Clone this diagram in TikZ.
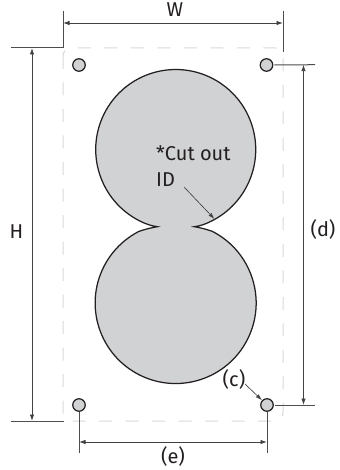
\documentclass[tikz,border=0pt]{standalone}
\usepackage{fontspec}
\setmainfont{Fira Sans}
\usetikzlibrary{arrows.meta}
\definecolor{fillg}{HTML}{D0D2D3}
\definecolor{dashg}{HTML}{D9D9D9}
\definecolor{ink}{HTML}{231F20}
\tikzset{
  x=1bp,y=-1bp,
  dimline/.style={draw=ink!85,line width=.9bp,{Latex[length=6.5bp,width=4.5bp]}-{Latex[length=6.5bp,width=4.5bp]}},
  ptr/.style={draw=ink!85,line width=.65bp,-{Latex[length=6.5bp,width=4bp]}},
  ext/.style={draw=ink!80,line width=1bp},
  hole/.style={circle,draw=ink,fill=fillg,line width=1.2bp,minimum size=12.5bp,inner sep=0pt},
  lab/.style={font=\fontsize{20bp}{26bp}\selectfont,text=ink,inner sep=0pt},
  outl/.style={dash pattern=on 13bp off 13.5bp,draw=dashg,line width=1bp}
}
\begin{document}
\begin{tikzpicture}
\useasboundingbox (0,0) rectangle (339,470);
\fill[white] (0,0) rectangle (339,470);
\draw[outl,rounded corners=8bp] (63,48) rectangle (283,421);
% cut-out
\path[fill=fillg,draw=ink,line width=1.25bp,line join=miter]
  (157.3,226.7) .. controls (152,226) and (146,224.2) .. (139.4,220.8)
  arc[start angle=117,end angle=423,radius=80]
  .. controls (205.4,224.2) and (200,226) .. (194.3,226.7)
  .. controls (200,227.6) and (205.4,229) .. (212.2,231.3)
  arc[start angle=-63,end angle=243,radius=80.5]
  .. controls (146,229) and (152,227.6) .. cycle;
% holes
\node[hole] (tl) at (79,65) {};
\node[hole] (tr) at (266.5,65) {};
\node[hole] (bl) at (79,405) {};
\node[hole] (br) at (267,405) {};
% extension-line ends
\coordinate (wl1) at (63,11); \coordinate (wl2) at (63,48);
\coordinate (wr1) at (283,11); \coordinate (wr2) at (283,52);
\coordinate (hu1) at (11,48); \coordinate (hu2) at (63,48);
\coordinate (hd1) at (11,421); \coordinate (hd2) at (64,421);
\coordinate (du1) at (315,64.7);
\coordinate (dd1) at (315,405);
\coordinate (el) at (79,453);
\coordinate (er) at (267,453);
\draw[ext] (wl1) -- (wl2);
\draw[ext] (wr1) -- (wr2);
\draw[ext] (hu1) -- (hu2);
\draw[ext] (hd1) -- (hd2);
\draw[ext] (tr.east) ++(1,0) -- (du1);
\draw[ext] (br.east) ++(1,0) -- (dd1);
\draw[ext] (bl.south) -- (el);
\draw[ext] (br.south) -- (er);
% dimension lines
\coordinate (wa) at (63,23); \coordinate (wb) at (283,23);
\coordinate (ha) at (32,48); \coordinate (hb) at (32,421);
\coordinate (da) at (303.5,64.7); \coordinate (db) at (303.5,405);
\coordinate (ea) at (79,442); \coordinate (eb) at (267,442);
\draw[dimline] (wa) -- (wb);
\draw[dimline] (ha) -- (hb);
\draw[dimline] (da) -- (db);
\draw[dimline] (ea) -- (eb);
% labels
\node[lab] (W) at (175,9.5) {W};
\node[lab] (H) at (16.5,232) {H};
\node[lab] (d) at (323,229) {(d)};
\node[lab] (e) at (173,456) {(e)};
\node[lab] (c) at (234,379) {(c)};
\node[lab,align=left,anchor=north west] (cut) at (156,146) {*Cut out\\ID};
% pointers
\coordinate (cuttip) at (214.5,219);
\coordinate (cutstart) at (184,187);
\coordinate (cstart) at (245,384);
\draw[ptr] (cutstart) -- (cuttip);
\draw[ptr] (cstart) -- (br);
\end{tikzpicture}
\end{document}
